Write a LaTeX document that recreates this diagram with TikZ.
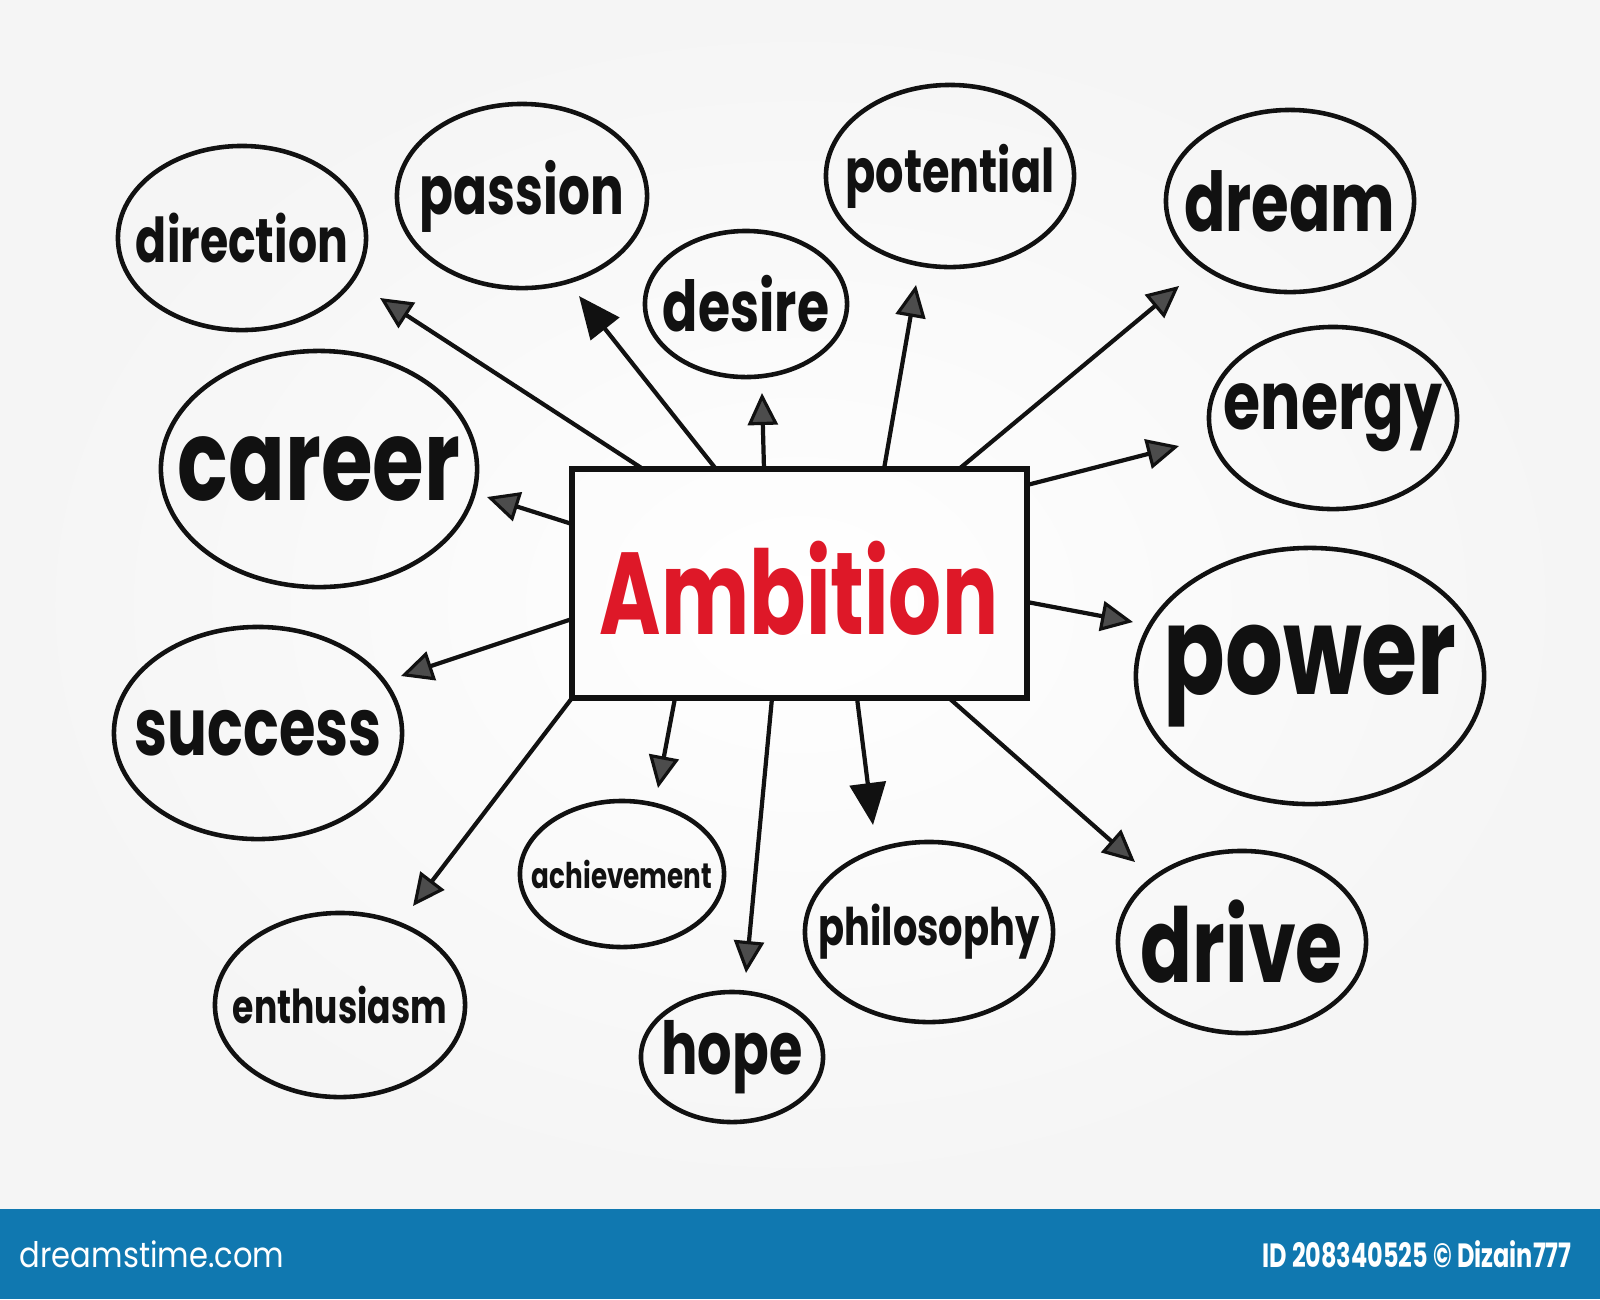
\documentclass[tikz,border=0pt]{standalone}
\usepackage{fontspec}
\setmainfont{Poppins}
\usetikzlibrary{shapes.geometric,arrows.meta}
\definecolor{barblue}{RGB}{16,120,176}
\definecolor{ambred}{RGB}{222,24,40}
\definecolor{ink}{RGB}{17,17,17}
\newcommand\fitw[3][1.35]{\resizebox{#2cm}{!}{\scalebox{1}[#1]{#3}}}
\begin{document}
\begin{tikzpicture}[x=0.01cm,y=-0.01cm,
  bub/.style={ellipse, draw=ink, line width=1.3pt, inner sep=0pt},
  wordlbl/.style={text=ink, inner sep=0pt},
  arr/.style={draw=ink, line width=1.2pt, -{Triangle[length=0.32cm,width=0.3cm,fill=black!70,line width=0.9pt]}},
  arrs/.style={draw=ink, line width=1.2pt, -{Triangle[length=0.42cm,width=0.36cm]}}
]
\useasboundingbox (0,0) rectangle (1600,1299);
\shade[inner color=white, outer color=black!4] (0,0) rectangle (1600,1209);
\fill[barblue] (0,1209) rectangle (1600,1299);
\node[text=white, inner sep=0pt] (dt) at (152,1254) {\fitw[1.15]{2.64}{dreamstime.com}};
\node[text=white, inner sep=0pt] (id) at (1417,1254) {\fitw[1.4]{3.09}{\bfseries ID 208340525 © Dizain777}};

% central box
\node[draw=ink, line width=1.7pt, minimum width=4.55cm, minimum height=2.29cm, inner sep=0pt] (amb) at (799.5,583.5) {};
\node[text=ambred, inner sep=0pt] (ambt) at (799,588) {\fitw[1.4]{3.98}{\bfseries Ambition}};

% bubbles (ellipse + centred word)
\node[bub, minimum width=2.48cm, minimum height=1.84cm, label={[wordlbl,name=direction-t]center:\fitw{2.12}{\bfseries direction}}] (direction) at (242,238) {};
\node[bub, minimum width=2.50cm, minimum height=1.84cm, label={[wordlbl,name=passion-t]center:\fitw{2.04}{\bfseries passion}}] (passion) at (522,196) {};
\node[bub, minimum width=2.02cm, minimum height=1.46cm, label={[wordlbl,name=desire-t]center:\fitw{1.66}{\bfseries desire}}] (desire) at (746,304) {};
\node[bub, minimum width=2.48cm, minimum height=1.82cm, label={[wordlbl,name=potential-t]center:\fitw{2.09}{\bfseries potential}}] (potential) at (950,176) {};
\node[bub, minimum width=2.48cm, minimum height=1.82cm, label={[wordlbl,name=dream-t]center:\fitw{2.11}{\bfseries dream}}] (dream) at (1290,201) {};
\node[bub, minimum width=2.48cm, minimum height=1.82cm, label={[wordlbl,name=energy-t]center:\fitw{2.19}{\bfseries energy}}] (energy) at (1333,418) {};
\node[bub, minimum width=3.48cm, minimum height=2.56cm, label={[wordlbl,name=power-t]center:\fitw{2.93}{\bfseries power}}] (power) at (1310,676) {};
\node[bub, minimum width=2.48cm, minimum height=1.82cm, label={[wordlbl,name=drive-t]center:\fitw{2.02}{\bfseries drive}}] (drive) at (1242,942) {};
\node[bub, minimum width=2.48cm, minimum height=1.80cm, label={[wordlbl,name=philosophy-t]center:\fitw{2.21}{\bfseries philosophy}}] (philosophy) at (929,932) {};
\node[bub, minimum width=1.82cm, minimum height=1.30cm, label={[wordlbl,name=hope-t]center:\fitw{1.41}{\bfseries hope}}] (hope) at (732,1057) {};
\node[bub, minimum width=2.04cm, minimum height=1.46cm, label={[wordlbl,name=achievement-t]center:\fitw{1.80}{\bfseries achievement}}] (achievement) at (622,874) {};
\node[bub, minimum width=2.50cm, minimum height=1.84cm, label={[wordlbl,name=enthusiasm-t]center:\fitw{2.14}{\bfseries enthusiasm}}] (enthusiasm) at (340,1005) {};
\node[bub, minimum width=2.88cm, minimum height=2.12cm, label={[wordlbl,name=success-t]center:\fitw{2.47}{\bfseries success}}] (success) at (258,733) {};
\node[bub, minimum width=3.16cm, minimum height=2.36cm, label={[wordlbl,name=career-t]center:\fitw{2.82}{\bfseries career}}] (career) at (319,469) {};

% arrow end points
\coordinate (s1) at (643,469);  \coordinate (t1) at (380,298);
\coordinate (s2) at (716,469);  \coordinate (t2) at (579,296);
\coordinate (s3) at (764,469);  \coordinate (t3) at (762,393);
\coordinate (s4) at (884,469);  \coordinate (t4) at (916,285);
\coordinate (s5) at (959,469);  \coordinate (t5) at (1179,286);
\coordinate (s6) at (1027,485); \coordinate (t6) at (1179,446);
\coordinate (s7) at (1027,602); \coordinate (t7) at (1133,622);
\coordinate (s8) at (949,698);  \coordinate (t8) at (1135,862);
\coordinate (s9) at (857,698);  \coordinate (t9) at (873,825);
\coordinate (s10) at (772,698); \coordinate (t10) at (746,973);
\coordinate (s11) at (675,698); \coordinate (t11) at (658,788);
\coordinate (s12) at (572,698); \coordinate (t12) at (413,906);
\coordinate (s13) at (572,619); \coordinate (t13) at (401,676);
\coordinate (s14) at (572,524); \coordinate (t14) at (487,497);

\draw[arr]  (s1) -- (t1);
\draw[arrs] (s2) -- (t2);
\draw[arr]  (s3) -- (t3);
\draw[arr]  (s4) -- (t4);
\draw[arr]  (s5) -- (t5);
\draw[arr]  (s6) -- (t6);
\draw[arr]  (s7) -- (t7);
\draw[arr]  (s8) -- (t8);
\draw[arrs] (s9) -- (t9);
\draw[arr]  (s10) -- (t10);
\draw[arr]  (s11) -- (t11);
\draw[arr]  (s12) -- (t12);
\draw[arr]  (s13) -- (t13);
\draw[arr]  (s14) -- (t14);
\end{tikzpicture}
\end{document}
